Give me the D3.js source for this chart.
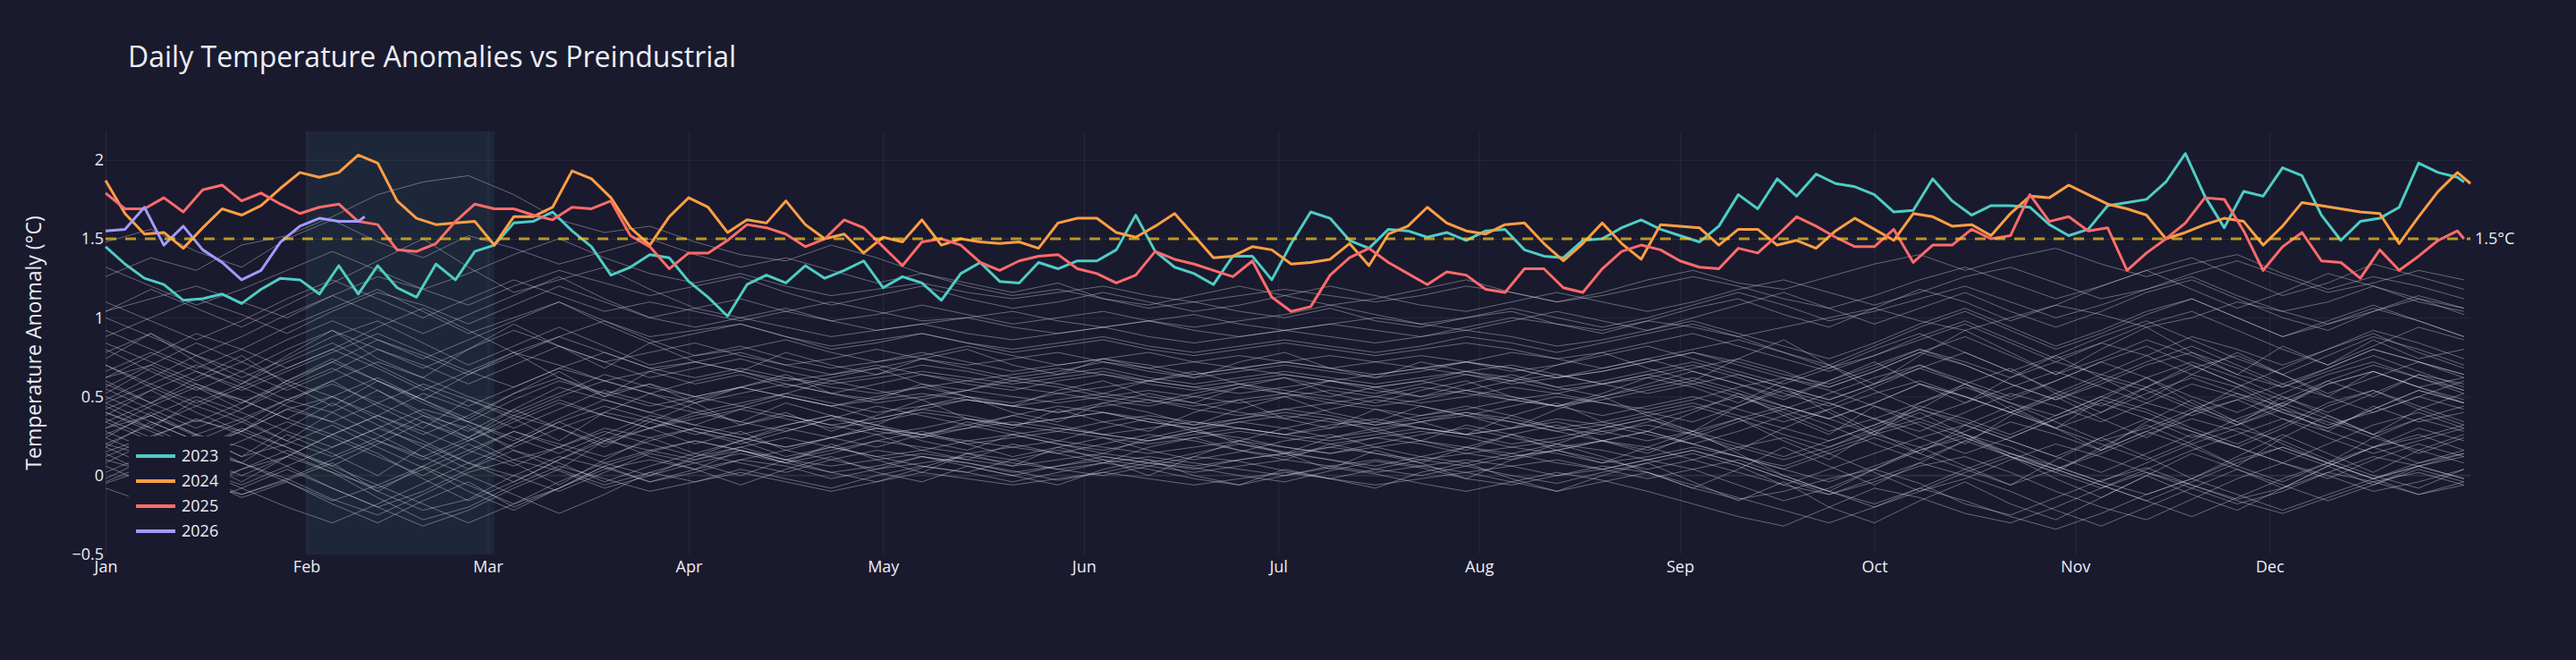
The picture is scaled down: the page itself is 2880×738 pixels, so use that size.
<!DOCTYPE html>
<html>
<head>
<meta charset="utf-8">
<script src="https://cdn.jsdelivr.net/npm/d3@7"></script>
<style>
  html, body { margin: 0; padding: 0; background: #1a1a2e; }
  svg { display: block; font-family: "Open Sans", sans-serif; }
</style>
</head>
<body>
<svg id="chart" width="2880" height="738"></svg>
<script>
// highlighted years, sampled every 3 days from Jan 1 (last value = last day)
var years = ["2023", "2024", "2025", "2026"],
    yearColors = ["#4ecdc4", "#ff9f43", "#ff6b6b", "#a29bfe"],
    lastDay = [365, 366, 365, 41];

var anom2023 = [1.45,1.34,1.25,1.21,1.11,1.12,1.15,1.09,1.18,1.25,
  1.24,1.15,1.33,1.15,1.33,1.19,1.13,1.34,1.24,1.42,
  1.46,1.60,1.61,1.67,1.55,1.45,1.27,1.32,1.40,1.38,
  1.23,1.13,1.01,1.21,1.27,1.22,1.33,1.25,1.30,1.36,
  1.19,1.26,1.22,1.11,1.28,1.35,1.23,1.22,1.35,1.31,
  1.36,1.36,1.43,1.65,1.42,1.32,1.28,1.21,1.39,1.39,1.24,
  1.47,1.67,1.63,1.49,1.44,1.56,1.55,1.51,1.54,1.49,
  1.55,1.56,1.43,1.39,1.38,1.49,1.50,1.57,1.62,1.56,
  1.52,1.48,1.58,1.78,1.69,1.88,1.77,1.91,1.85,1.83,
  1.78,1.67,1.68,1.88,1.74,1.65,1.71,1.71,1.70,1.59,
  1.52,1.56,1.71,1.73,1.75,1.86,2.04,1.77,1.57,1.80,
  1.77,1.95,1.90,1.65,1.49,1.61,1.63,1.70,1.98,1.92,1.89,
  1.86];

var anom2024 = [1.87,1.66,1.53,1.54,1.44,1.57,1.69,1.65,1.71,1.82,
  1.92,1.89,1.92,2.03,1.98,1.74,1.63,1.59,1.60,1.61,
  1.46,1.64,1.64,1.70,1.93,1.88,1.76,1.57,1.46,1.64,
  1.76,1.70,1.54,1.62,1.60,1.74,1.59,1.50,1.53,1.41,
  1.51,1.48,1.62,1.46,1.50,1.48,1.47,1.48,1.44,1.60,
  1.63,1.63,1.54,1.51,1.58,1.66,1.52,1.38,1.39,1.45,1.43,
  1.34,1.35,1.37,1.47,1.33,1.53,1.58,1.70,1.60,1.55,
  1.53,1.59,1.60,1.47,1.36,1.47,1.60,1.47,1.37,1.59,
  1.58,1.57,1.46,1.56,1.56,1.46,1.49,1.44,1.55,1.63,
  1.56,1.49,1.66,1.64,1.58,1.59,1.52,1.66,1.77,1.76,
  1.84,1.78,1.72,1.69,1.65,1.50,1.54,1.59,1.63,1.61,
  1.46,1.58,1.73,1.71,1.69,1.67,1.66,1.47,1.64,1.80,1.92,
  1.85];

var anom2025 = [1.79,1.69,1.69,1.76,1.67,1.81,1.84,1.74,1.79,1.72,
  1.66,1.70,1.72,1.61,1.59,1.43,1.42,1.47,1.61,1.72,
  1.69,1.69,1.65,1.62,1.70,1.69,1.74,1.52,1.45,1.31,
  1.41,1.41,1.49,1.59,1.57,1.53,1.45,1.50,1.62,1.57,
  1.45,1.33,1.48,1.50,1.46,1.35,1.30,1.36,1.39,1.40,
  1.31,1.28,1.22,1.27,1.42,1.37,1.34,1.30,1.26,1.36,1.13,
  1.04,1.07,1.27,1.38,1.44,1.35,1.28,1.21,1.29,1.27,
  1.18,1.16,1.31,1.31,1.19,1.16,1.31,1.42,1.46,1.43,
  1.36,1.32,1.31,1.44,1.41,1.52,1.64,1.58,1.51,1.45,
  1.45,1.56,1.35,1.46,1.46,1.56,1.50,1.52,1.78,1.61,
  1.64,1.55,1.57,1.30,1.41,1.50,1.60,1.76,1.75,1.55,
  1.30,1.45,1.54,1.36,1.35,1.25,1.43,1.30,1.39,1.49,1.55,
  1.50];

var anom2026 = [1.55,1.56,1.70,1.46,1.58,1.43,1.35,1.24,1.30,1.48,1.58,1.63,1.61,1.61,1.64];

// earlier years, weekly from Jan 1 to Dec 31, in hundredths of a degree
var pastYears = [
  [10,2,-5,-12,-3,8,-10,-22,-15,0,12,5,-4,2,10,6,-2,4,12,8,3,-3,2,8,5,0,-4,3,9,5,-2,-6,0,6,2,-8,-15,-10,-2,4,-5,-18,-25,-14,-3,5,-6,-15,-8,2,-4,-12,-6],
  [-5,5,15,8,-2,-15,-25,-12,2,10,3,-8,0,12,18,10,2,-4,5,14,10,4,0,6,12,9,3,-2,4,10,6,0,-5,2,8,14,6,-6,-12,-4,6,12,2,-10,-20,-28,-15,-2,8,0,-10,-4,4],
  [20,12,4,-8,-20,-30,-18,-5,8,0,-10,2,14,8,0,10,18,12,6,2,10,16,12,8,14,20,15,10,6,12,18,14,8,4,10,16,8,-2,-10,-18,-8,4,14,6,-4,-12,-2,10,18,8,-2,6,14],
  [30,38,25,12,20,32,18,5,-10,-22,-8,6,15,22,16,8,14,22,28,20,12,18,24,16,10,15,22,26,18,12,8,14,20,16,10,4,-6,-16,-8,4,16,26,18,6,-4,8,20,30,22,10,0,-8,4],
  [-8,-18,-10,4,12,2,-14,-28,-20,-6,6,-2,-10,-4,4,-2,-8,0,6,2,-4,2,8,4,-2,-6,0,5,1,-5,-10,-4,2,-3,-10,-18,-26,-32,-20,-8,-14,-24,-30,-20,-8,2,-6,-16,-24,-14,-4,2,-6],
  [15,25,35,28,18,6,20,34,24,10,18,28,20,12,22,30,24,18,26,32,26,20,16,22,28,24,18,14,20,26,30,24,18,22,28,20,12,6,16,26,34,24,12,2,-8,4,16,26,36,28,18,24,32],
  [40,30,18,28,42,50,36,22,8,20,34,44,36,28,20,28,36,30,24,30,38,32,26,22,28,34,30,24,28,34,40,34,28,22,16,24,34,42,32,20,10,22,34,26,16,28,40,48,36,24,14,22,30],
  [2,14,26,18,6,-8,-20,-10,4,16,8,-4,6,14,8,2,10,16,12,6,0,6,12,8,4,10,14,10,4,0,6,12,16,10,4,10,18,24,14,2,-10,-2,10,20,12,2,-8,-18,-10,2,12,6,-2],
  [50,38,26,36,48,40,26,12,24,38,30,20,30,40,34,28,36,44,38,32,38,44,40,34,30,36,42,38,32,38,44,38,30,26,34,42,50,40,28,36,46,56,46,34,22,30,42,52,44,32,40,50,42],
  [30,44,56,48,36,50,62,48,34,22,36,48,40,32,42,50,44,36,42,48,44,40,46,52,46,40,36,42,48,44,38,44,50,46,40,34,44,54,46,36,28,40,52,44,34,46,58,50,40,30,42,54,46],
  [28,16,4,-6,6,18,30,20,8,-4,10,22,16,10,18,24,18,12,16,22,18,14,20,26,22,16,12,18,24,20,14,10,16,22,18,10,2,-6,4,14,24,32,22,12,2,14,26,18,8,-2,10,20,12],
  [55,42,30,42,56,68,54,40,28,42,56,48,40,48,56,50,44,50,56,50,46,52,48,44,50,56,52,46,50,56,52,48,44,50,56,62,54,44,36,46,58,50,40,52,64,56,44,34,46,58,66,56,48],
  [62,70,58,46,58,72,60,46,34,48,60,52,58,50,44,52,60,54,48,54,60,56,50,46,52,58,54,50,56,60,54,48,52,58,64,58,50,42,52,62,70,58,46,38,50,62,72,62,50,40,52,64,58],
  [20,32,44,34,22,12,24,38,30,18,30,40,34,26,32,38,32,26,30,36,32,28,34,38,34,30,26,32,36,30,26,30,36,32,26,20,28,38,46,36,24,14,24,36,46,36,24,32,42,34,24,16,26],
  [70,58,46,58,72,84,70,56,44,56,68,60,52,60,66,58,52,58,64,58,54,60,64,58,54,58,62,56,52,58,64,60,54,58,64,70,62,52,44,56,68,78,66,54,44,56,68,76,64,52,62,72,64],
  [48,62,76,66,54,66,80,70,58,70,82,72,62,68,74,66,60,64,70,66,60,64,68,62,58,62,66,62,58,62,66,70,64,58,62,68,74,66,56,66,78,70,58,48,60,72,82,70,58,68,80,72,62],
  [40,28,16,28,42,34,22,10,22,36,48,38,30,36,42,36,30,34,40,36,32,36,40,34,30,34,38,34,30,34,38,34,28,32,38,44,36,26,18,30,42,34,24,36,48,40,28,18,30,44,54,42,32],
  [78,90,76,62,74,88,98,84,70,82,94,82,70,76,82,74,68,72,78,72,66,70,74,70,64,68,72,68,64,68,72,68,62,66,72,78,72,64,58,68,80,72,62,72,84,76,64,56,68,80,90,78,68],
  [62,76,90,80,68,80,94,106,92,78,88,98,86,76,80,86,78,72,76,82,76,70,74,78,72,68,72,76,72,68,72,78,74,68,74,80,86,78,68,76,86,96,84,72,64,76,88,80,70,80,92,84,74],
  [92,80,68,80,94,106,118,104,90,100,110,98,88,92,96,88,82,86,90,84,80,84,88,82,78,82,86,82,78,82,88,84,78,84,90,96,88,78,70,82,94,104,92,80,90,102,112,100,88,96,106,98,88],
  [104,118,106,94,108,122,136,150,132,116,124,132,118,106,100,106,98,92,96,100,94,90,94,98,92,88,92,96,92,88,94,100,96,90,98,106,112,102,94,106,118,110,98,108,120,130,118,106,116,128,120,110,104],
  [126,138,130,146,152,164,178,186,190,178,162,154,158,148,140,136,146,138,128,122,116,122,112,106,110,104,100,106,98,94,100,104,96,92,98,94,88,94,100,106,98,92,100,108,102,94,100,110,104,96,104,112,106],
  [148,156,142,132,150,162,148,138,152,144,134,142,150,140,132,138,130,122,128,120,114,118,112,108,114,120,114,108,112,118,124,116,110,116,124,130,122,118,126,134,140,130,138,144,134,126,134,140,128,118,126,120,112],
  [104,112,120,110,100,114,126,118,108,120,130,122,114,120,126,116,108,114,120,112,106,110,116,110,104,108,114,120,114,108,104,110,116,110,104,110,118,124,116,108,116,126,132,122,112,118,128,136,126,116,122,130,124],
  [88,100,112,102,90,104,116,108,96,108,120,110,100,106,112,104,98,102,108,102,96,100,104,98,94,98,102,108,102,96,100,106,100,94,100,108,116,108,98,104,112,120,110,100,108,118,126,114,104,110,120,112,102],
  [42,54,66,56,44,34,46,58,48,38,50,60,52,46,52,58,52,46,50,54,50,46,50,54,50,46,50,54,50,46,50,56,52,46,42,48,56,62,54,44,36,46,56,66,56,46,38,48,58,50,40,50,60],
  [34,22,10,22,34,24,12,0,14,28,20,12,22,30,24,18,24,30,26,20,24,28,24,20,24,28,24,20,24,28,24,18,22,28,32,26,18,10,18,28,36,26,14,4,14,26,36,28,16,6,18,30,22],
  [-4,8,18,8,-4,-16,-6,6,-6,-18,-8,4,10,4,10,16,10,4,8,12,8,4,8,12,8,4,0,6,10,6,2,6,10,4,-2,4,10,0,-10,-20,-10,2,12,4,-6,-16,-26,-14,-2,8,-2,-12,-4],
  [70,56,44,56,68,80,68,54,66,78,70,60,66,72,66,60,64,70,64,60,64,68,64,60,64,68,64,60,64,68,64,58,62,68,74,66,58,50,60,70,80,70,58,48,58,70,78,68,56,66,76,66,56],
  [84,72,60,72,86,98,86,74,86,98,110,96,84,90,96,88,80,84,90,84,78,82,86,80,76,80,84,80,76,80,84,80,74,78,84,90,82,74,66,76,88,98,86,74,84,96,104,92,80,70,82,94,86],
  [34,46,58,48,36,26,38,52,42,30,42,54,46,40,46,52,46,40,44,48,44,40,44,48,42,38,42,46,42,38,42,48,44,38,44,50,42,34,42,52,60,50,40,30,40,52,62,52,40,30,42,54,46],
  [24,12,0,-12,-2,10,22,12,0,-12,-24,-12,2,10,16,10,6,10,14,10,6,10,14,10,6,10,14,18,14,10,14,18,14,8,12,18,12,4,-4,6,16,24,14,4,-6,-16,-4,8,18,8,-2,8,16],
  [46,58,70,60,48,60,72,62,50,40,52,64,56,50,56,62,56,52,56,60,56,52,56,60,56,52,56,60,54,50,54,60,64,58,52,58,64,56,48,58,68,58,48,60,72,62,50,40,52,64,72,62,52],
  [100,88,76,88,102,114,102,90,102,114,126,112,100,94,100,94,88,92,96,90,86,90,94,88,84,88,92,88,84,88,92,88,82,86,92,98,90,82,74,84,96,106,94,82,92,104,112,100,88,98,108,98,88],
  [132,120,108,118,130,142,130,118,128,140,150,138,128,122,128,120,114,118,122,116,112,116,120,114,110,114,118,114,110,114,120,116,110,114,120,126,120,112,106,114,124,132,122,112,120,130,138,126,114,122,134,126,118],
  [26,38,50,40,28,18,30,42,34,24,14,26,38,32,26,32,38,32,26,30,34,30,26,30,34,30,26,30,34,30,26,30,34,28,22,28,36,44,36,26,18,28,40,30,20,10,22,36,46,36,26,36,44],
  [18,6,-6,4,16,6,-6,-18,-30,-18,-4,8,0,8,14,8,2,6,12,8,2,6,10,6,2,6,10,6,2,6,10,6,0,4,10,16,8,-2,-12,-2,8,0,-10,-22,-32,-20,-8,4,-6,-16,-6,6,12],
  [56,70,84,72,60,72,86,76,64,76,88,78,68,72,78,70,64,68,74,68,62,66,72,66,62,66,70,66,62,66,72,68,62,66,72,78,70,62,56,66,78,88,76,64,74,86,76,64,56,68,80,72,64],
  [110,98,86,98,112,124,112,100,112,124,114,104,110,104,98,104,110,104,98,100,104,98,94,98,102,96,92,96,100,96,92,98,104,98,92,100,108,116,106,96,106,116,104,94,104,116,124,112,100,92,104,114,106],
  [46,34,22,34,48,58,46,34,22,34,46,38,30,38,44,38,32,36,42,38,32,36,40,36,32,36,40,36,32,36,40,36,30,34,40,46,38,30,22,32,44,36,26,38,50,42,30,20,32,46,54,44,34],
  [12,24,36,26,14,2,-8,4,16,28,18,8,16,22,16,10,16,22,18,14,18,22,18,14,18,22,18,14,18,22,18,12,16,22,28,20,12,4,14,24,14,4,-6,4,16,28,18,6,-4,8,18,26,16],
  [80,66,54,66,80,92,80,68,80,92,82,72,78,84,76,70,74,80,74,70,74,78,72,68,72,76,72,68,72,76,72,66,70,76,82,74,66,58,68,80,90,78,66,76,88,98,86,74,64,76,88,80,70],
  [58,46,34,46,60,50,38,26,38,52,62,52,44,50,56,50,44,48,52,48,44,48,52,48,44,48,52,48,44,48,54,50,44,48,54,60,52,44,36,46,58,50,40,50,62,54,42,32,44,58,66,56,46],
  [6,-6,-18,-8,4,-8,-20,-32,-22,-8,4,-6,2,-4,2,-4,-10,-4,2,-2,-6,-2,2,-2,-6,-2,2,-2,-6,-2,2,-4,-10,-4,2,-6,-14,-22,-30,-20,-8,-16,-26,-34,-24,-12,-2,-12,-22,-12,-2,6,-2],
  [66,78,66,54,66,78,90,78,66,56,68,78,68,62,68,62,58,62,66,62,58,62,66,60,56,60,64,60,56,60,66,62,56,60,66,72,64,56,48,58,70,60,50,60,72,82,70,58,48,60,70,62,54],
  [36,24,12,0,12,26,38,28,16,6,18,30,24,30,24,18,24,30,26,22,26,30,26,22,26,30,26,22,26,30,26,20,24,30,36,28,20,12,22,32,42,32,22,12,24,36,28,18,8,20,32,40,30],
  [8,22,10,-4,12,26,14,-2,-16,-4,10,24,12,4,16,8,20,10,2,14,6,18,10,0,12,22,14,4,16,8,-2,10,20,12,2,-8,4,18,6,-6,8,22,12,-2,-14,0,14,4,-8,6,18,8,14],
  [44,30,48,36,22,40,54,38,24,42,30,18,34,46,32,40,28,38,48,36,30,42,34,28,40,48,36,30,42,34,26,38,46,34,28,40,52,38,26,44,32,20,38,50,36,24,40,56,42,28,44,34,40],
  [60,46,62,76,58,44,60,48,36,52,66,50,58,46,56,64,52,48,58,50,44,54,60,50,46,56,62,52,46,54,60,50,44,52,62,56,46,60,70,54,42,58,68,52,40,56,70,58,44,60,50,64,54],
  [18,34,22,8,26,14,0,18,32,16,4,22,30,20,28,16,24,32,22,16,26,20,14,24,30,20,14,24,30,22,16,26,32,22,14,26,36,22,10,28,40,26,12,2,18,32,20,6,24,38,26,14,24],
  [-2,12,0,-14,-4,-18,-30,-16,-4,-20,-8,6,-4,4,-6,4,12,2,-4,6,0,-6,4,10,0,-6,4,-2,-8,2,8,-2,-10,0,8,-4,-16,-4,-20,-30,-16,-4,-18,-28,-14,0,-12,-22,-8,6,-6,4,-4],
  [74,90,72,58,76,92,74,62,80,96,82,68,84,72,66,78,70,64,74,80,70,64,74,68,62,72,78,68,62,72,66,60,70,78,68,60,74,86,70,58,76,92,78,64,80,94,78,64,82,70,86,74,80],
  [38,54,40,28,46,60,44,30,48,36,22,40,52,42,34,46,38,32,44,50,40,34,46,40,32,42,50,40,34,44,38,30,42,50,38,28,44,56,40,26,46,58,42,30,48,62,46,32,50,38,26,42,52],
  [14,0,16,30,18,4,-10,6,20,8,-6,10,24,14,22,12,18,26,16,10,20,14,8,18,24,16,10,20,14,8,18,26,16,8,18,28,14,0,-10,4,18,6,-6,10,24,12,-2,12,26,14,2,16,8],
  [52,68,56,42,60,74,60,48,64,78,62,50,66,58,64,56,62,68,58,54,62,58,52,60,66,58,52,60,56,50,58,64,56,50,58,66,58,48,60,72,58,46,62,76,62,48,64,78,64,50,66,56,62],
  [24,40,26,12,30,46,32,18,4,20,34,22,36,28,22,32,38,28,24,34,28,22,30,36,28,22,30,36,28,22,32,26,20,30,36,26,16,30,42,28,14,32,44,30,16,34,48,34,20,8,24,36,28]
];

var monthLabels = ["Jan","Feb","Mar","Apr","May","Jun","Jul","Aug","Sep","Oct","Nov","Dec"];
var yTickValues = [-0.5, 0, 0.5, 1, 1.5, 2];
var threshold = 1.5, thresholdLabel = "1.5\u00b0C";
var shadeFrom = 32, shadeTo = 61;   // day of year: Feb 1 .. Mar 2

var W = 2880, H = 738,
    plot = { left: 118, right: 2762, top: 147, bottom: 620 },
    textColor = "#eceef4";

var svg = d3.select("#chart");
svg.append("rect").attr("width", W).attr("height", H).attr("fill", "#1a1a2e");

function dayDate(d) { return new Date(Date.UTC(2023, 0, d)); }

var x = d3.scaleUtc()
    .domain([dayDate(1), dayDate(366)])
    .range([plot.left, plot.right]);
var y = d3.scaleLinear()
    .domain([-0.5, 2.18])
    .range([plot.bottom, plot.top]);

var monthStarts = d3.utcMonth.range(dayDate(1), dayDate(366));

// shaded window
svg.append("rect")
    .attr("x", x(dayDate(shadeFrom)))
    .attr("y", plot.top)
    .attr("width", x(dayDate(shadeTo)) - x(dayDate(shadeFrom)))
    .attr("height", plot.bottom - plot.top)
    .attr("fill", "rgba(78,205,196,0.08)");

// grid
var gridX = svg.append("g")
    .attr("transform", "translate(0," + plot.bottom + ")")
    .call(d3.axisBottom(x).tickValues(monthStarts).tickSize(-(plot.bottom - plot.top)).tickFormat(""));
gridX.select(".domain").remove();
gridX.selectAll("line").attr("stroke", "rgba(255,255,255,0.07)").attr("stroke-width", 1);

var gridY = svg.append("g")
    .attr("transform", "translate(" + plot.left + ",0)")
    .call(d3.axisLeft(y).tickValues([0.5, 1, 1.5, 2]).tickSize(-(plot.right - plot.left)).tickFormat(""));
gridY.select(".domain").remove();
gridY.selectAll("line").attr("stroke", "rgba(255,255,255,0.07)").attr("stroke-width", 1);

// zero line
svg.append("line")
    .attr("x1", plot.left).attr("x2", plot.right)
    .attr("y1", y(0)).attr("y2", y(0))
    .attr("stroke", "#283442").attr("stroke-width", 2);

// earlier years
var weekLine = d3.line()
    .x(function (d, i, arr) { return x(dayDate(1 + i * 364 / (arr.length - 1))); })
    .y(function (d) { return y(d / 100); });

svg.append("g").selectAll("path")
    .data(pastYears)
    .enter()
    .append("path")
    .attr("d", function (d) { return weekLine(d); })
    .attr("fill", "none")
    .attr("stroke", "rgba(220,220,235,0.4)")
    .attr("stroke-width", 1)
    .attr("stroke-linejoin", "round");

// highlighted years
var yearSeries = [anom2023, anom2024, anom2025, anom2026];
yearSeries.forEach(function (vals, k) {
    var line = d3.line()
        .x(function (d, i) { return x(dayDate(Math.min(1 + 3 * i, lastDay[k]))); })
        .y(function (d) { return y(d); });
    svg.append("path")
        .attr("d", line(vals))
        .attr("fill", "none")
        .attr("stroke", yearColors[k])
        .attr("stroke-width", 3)
        .attr("stroke-linejoin", "round");
});

// 1.5 threshold
svg.append("line")
    .attr("x1", plot.left).attr("x2", plot.right)
    .attr("y1", y(threshold)).attr("y2", y(threshold))
    .attr("stroke", "rgba(249,202,36,0.7)")
    .attr("stroke-width", 3)
    .attr("stroke-dasharray", "12,10");
svg.append("text")
    .attr("x", plot.right + 5)
    .attr("y", y(threshold))
    .attr("dy", "0.35em")
    .attr("fill", textColor)
    .style("font-size", "18px")
    .text(thresholdLabel);

// axes
var yAxis = svg.append("g")
    .attr("transform", "translate(" + (plot.left - 2) + ",0)")
    .call(d3.axisLeft(y).tickValues(yTickValues).tickSize(0).tickPadding(0).tickFormat(d3.format("~g")));
yAxis.select(".domain").remove();
yAxis.selectAll("text").attr("fill", textColor).style("font-size", "18px").style("font-family", "Open Sans");

var xAxis = svg.append("g")
    .attr("transform", "translate(0," + plot.bottom + ")")
    .call(d3.axisBottom(x).tickValues(monthStarts).tickSize(0).tickPadding(7)
        .tickFormat(function (d, i) { return monthLabels[i]; }));
xAxis.select(".domain").remove();
xAxis.selectAll("text").attr("fill", textColor).style("font-size", "18px").style("font-family", "Open Sans");

svg.append("text")
    .attr("transform", "translate(38," + ((plot.top + plot.bottom) / 2) + ") rotate(-90)")
    .attr("text-anchor", "middle")
    .attr("dy", "0.35em")
    .attr("fill", textColor)
    .style("font-size", "23px")
    .text("Temperature Anomaly (\u00b0C)");

svg.append("text")
    .attr("x", 143)
    .attr("y", 75)
    .attr("fill", textColor)
    .style("font-size", "32px")
    .text("Daily Temperature Anomalies vs Preindustrial");

// legend
var legend = svg.append("g").attr("transform", "translate(144,488)");
legend.append("rect")
    .attr("width", 113).attr("height", 120)
    .attr("fill", "#1a1a2e");
years.forEach(function (yr, k) {
    var g = legend.append("g").attr("transform", "translate(0," + (22 + k * 28) + ")");
    g.append("line")
        .attr("x1", 8).attr("x2", 52)
        .attr("stroke", yearColors[k]).attr("stroke-width", 4);
    g.append("text")
        .attr("x", 59).attr("dy", "0.35em")
        .attr("fill", textColor)
        .style("font-size", "18px")
        .text(yr);
});
</script>
</body>
</html>
